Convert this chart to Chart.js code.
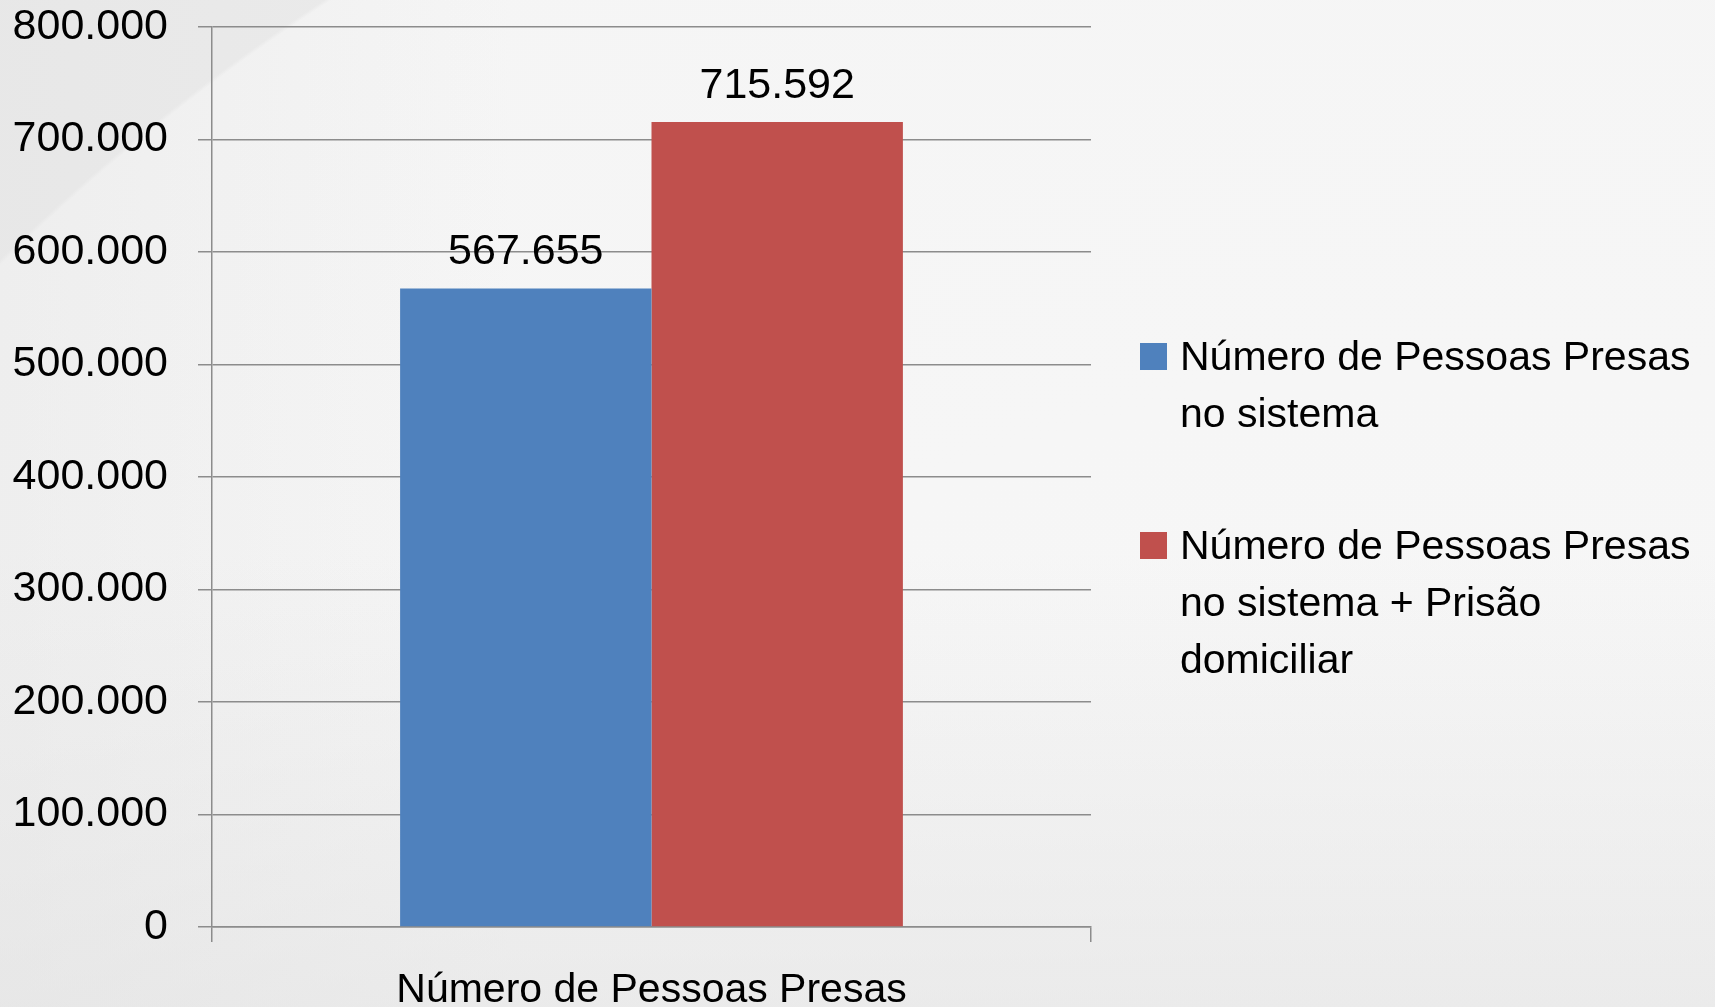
<!DOCTYPE html>
<html>
<head>
<meta charset="utf-8">
<script src="https://cdn.jsdelivr.net/npm/chart.js@4.4.1/dist/chart.umd.min.js"></script>
<style>
  html, body { margin: 0; padding: 0; }
  body {
    width: 1715px; height: 1007px; overflow: hidden; position: relative;
    font-family: "Liberation Sans", Arial, sans-serif;
    background:
      linear-gradient(to bottom, rgba(225,225,225,0) 0, rgba(225,225,225,0) 55%, rgba(225,225,225,0.55) 100%),
      linear-gradient(to right, rgba(225,225,225,0.35) 0, rgba(225,225,225,0) 30%),
      radial-gradient(circle 2150px at 1500px 1800px, #f8f8f8 0, #f5f5f5 2146px, #ebebeb 2150px);
  }
  #wrap { position: absolute; left: 0; top: 0; width: 1715px; height: 1007px; }
  #legend { position: absolute; left: 1140px; top: 328px; width: 565px; }
  .item { position: relative; padding-left: 40px; font-size: 41px; line-height: 57px; color: #000; margin-bottom: 75px; }
  .item .box { position: absolute; left: 0; top: 15px; width: 27px; height: 27px; }
</style>
</head>
<body>
<div id="wrap"><canvas id="prisonChart" width="1715" height="1007"></canvas></div>
<div id="legend"></div>
<script>
const categories = ["Número de Pessoas Presas"];
const seriesNames = ["Número de Pessoas Presas no sistema", "Número de Pessoas Presas no sistema + Prisão domiciliar"];
const sistemaValues = [567655];
const domiciliarValues = [715592];
const seriesColors = ["#4f81bd", "#c0504d"];
const yTicks = [0, 100000, 200000, 300000, 400000, 500000, 600000, 700000, 800000];

const fontFamily = '"Liberation Sans", Arial, sans-serif';
const numberFont = { family: fontFamily, size: 43 };
const textFont = { family: fontFamily, size: 41 };
const gridColor = "#8c8c8c";

function fmt(v) {
    return String(v).replace(/\B(?=(\d{3})+(?!\d))/g, ".");
}

// values printed above each bar
const barLabels = {
    id: "barLabels",
    afterDatasetsDraw(chart) {
        const ctx = chart.ctx;
        ctx.save();
        ctx.font = numberFont.size + "px " + fontFamily;
        ctx.fillStyle = "#000";
        ctx.textAlign = "center";
        ctx.textBaseline = "alphabetic";
        chart.data.datasets.forEach((ds, i) => {
            chart.getDatasetMeta(i).data.forEach((bar, j) => {
                ctx.fillText(fmt(ds.data[j]), bar.x, bar.y - 24);
            });
        });
        ctx.restore();
    }
};

const prisonChart = new Chart("prisonChart", {
    type: "bar",
    data: {
        labels: categories,
        datasets: [{
            label: seriesNames[0],
            data: sistemaValues,
            backgroundColor: seriesColors[0]
        }, {
            label: seriesNames[1],
            data: domiciliarValues,
            backgroundColor: seriesColors[1]
        }]
    },
    options: {
        responsive: false,
        animation: false,
        layout: { padding: { top: 27, right: 624, left: 0, bottom: 0 } },
        categoryPercentage: 0.572,
        barPercentage: 1.0,
        plugins: {
            legend: { display: false },
            title: { display: false },
            tooltip: { enabled: false }
        },
        scales: {
            y: {
                min: 0,
                max: 800000,
                afterBuildTicks: (scale) => { scale.ticks = yTicks.map(v => ({ value: v })); },
                afterFit: (scale) => {
                    scale.width = 212;
                    scale.paddingTop = 0;
                    scale.paddingBottom = 0;
                },
                ticks: {
                    font: numberFont,
                    color: "#000",
                    padding: 30,
                    callback: (v) => fmt(v)
                },
                grid: { color: gridColor, lineWidth: 1.5, tickLength: 14 },
                border: { color: gridColor, width: 1.5 }
            },
            x: {
                afterFit: (scale) => { scale.height = 80; },
                ticks: { font: textFont, color: "#000", padding: 24 },
                grid: { drawOnChartArea: false, color: gridColor, lineWidth: 1.5, tickLength: 15 },
                border: { color: gridColor, width: 1.5 }
            }
        }
    },
    plugins: [barLabels]
});

// legend with wrapped text, built from the datasets
const legendEl = document.getElementById("legend");
prisonChart.data.datasets.forEach((ds) => {
    const item = document.createElement("div");
    item.className = "item";
    const box = document.createElement("span");
    box.className = "box";
    box.style.background = ds.backgroundColor;
    item.appendChild(box);
    item.appendChild(document.createTextNode(ds.label));
    legendEl.appendChild(item);
});
</script>
</body>
</html>
